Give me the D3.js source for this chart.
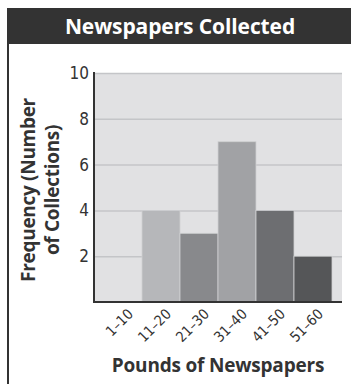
<!DOCTYPE html>
<html>
<head>
<meta charset="utf-8">
<script src="https://cdn.jsdelivr.net/npm/d3@7"></script>
<style>
  body { margin: 0; background: #fff; }
  svg { display: block; font-family: "Open Sans", "DejaVu Sans", sans-serif; }
</style>
</head>
<body>
<svg id="container" width="351" height="384"></svg>
<script>
const title = "Newspapers Collected";
const categories = ["1–10", "11–20", "21–30", "31–40", "41–50", "51–60"];
const frequencies = [0, 4, 3, 7, 4, 2];
const barColors = ["#e1e1e3", "#b6b7ba", "#88898c", "#a1a2a5", "#6d6e71", "#555658"];
const yTicks = [2, 4, 6, 8, 10];
const xTitle = "Pounds of Newspapers";
const yTitle = ["Frequency (Number", "of Collections)"];

const svg = d3.select('#container');

// frame + title bar
svg.append('rect').attr('x', 7).attr('y', 8).attr('width', 344).attr('height', 36).attr('fill', '#333333');
svg.append('line').attr('x1', 8).attr('x2', 8).attr('y1', 44).attr('y2', 384)
    .attr('stroke', '#333').attr('stroke-width', 2);
svg.append('text').attr('x', 180).attr('y', 34).attr('text-anchor', 'middle')
    .attr('fill', '#fff').attr('font-weight', 700).attr('font-size', 21)
    .attr('letter-spacing', -0.1)
    .text(title);

const plot = { left: 94, right: 342, top: 73, bottom: 302 };

const xScale = d3.scaleBand().domain(categories).range([104, 332]).padding(0);
const yScale = d3.scaleLinear().domain([0, 10]).range([plot.bottom, plot.top]);

svg.append('rect').attr('x', plot.left).attr('y', plot.top)
    .attr('width', plot.right - plot.left).attr('height', plot.bottom - plot.top)
    .attr('fill', '#e1e1e3');

// gridlines
svg.append('g')
    .attr('transform', 'translate(' + plot.left + ',0)')
    .call(d3.axisLeft(yScale).tickValues(yTicks).tickSize(-(plot.right - plot.left)).tickFormat(''))
    .call(g => g.select('.domain').remove())
    .call(g => g.selectAll('line').attr('stroke', '#c4c5c8').attr('stroke-width', 1.5));

// bars
svg.selectAll('.bar')
    .data(categories.map((c, i) => ({ c, v: frequencies[i], color: barColors[i] })).filter(d => d.v > 0))
    .join('rect')
    .attr('class', 'bar')
    .attr('x', d => xScale(d.c))
    .attr('y', d => yScale(d.v))
    .attr('width', xScale.bandwidth())
    .attr('height', d => yScale(0) - yScale(d.v))
    .attr('fill', d => d.color)
    .attr('stroke', '#cfd0d2')
    .attr('stroke-width', 0.8);

// y axis labels
svg.append('g')
    .attr('transform', 'translate(' + plot.left + ',0)')
    .call(d3.axisLeft(yScale).tickValues(yTicks).tickSize(0).tickPadding(5))
    .call(g => g.select('.domain').remove())
    .call(g => g.selectAll('text').attr('font-size', 17).attr('fill', '#333')
        .attr('font-family', '"DejaVu Sans Condensed", "Open Sans", sans-serif'));

// axis lines
svg.append('line').attr('x1', plot.left).attr('x2', plot.left).attr('y1', plot.top - 1).attr('y2', plot.bottom + 1)
    .attr('stroke', '#333').attr('stroke-width', 2);
svg.append('line').attr('x1', plot.left - 1).attr('x2', plot.right).attr('y1', plot.bottom).attr('y2', plot.bottom)
    .attr('stroke', '#333').attr('stroke-width', 2);

// x tick labels
svg.append('g')
    .attr('transform', 'translate(0,' + plot.bottom + ')')
    .call(d3.axisBottom(xScale).tickSize(0).tickPadding(0))
    .call(g => g.select('.domain').remove())
    .call(g => g.selectAll('text')
        .attr('font-size', 14.5).attr('fill', '#333')
        .attr('font-family', '"DejaVu Sans Condensed", "Open Sans", sans-serif')
        .attr('text-anchor', 'end').attr('dy', null).attr('y', 0)
        .attr('transform', 'translate(11,13) rotate(-45)'));

// axis titles
svg.append('text').attr('x', 218).attr('y', 372).attr('text-anchor', 'middle')
    .attr('font-weight', 700).attr('font-size', 19).attr('fill', '#333')
    .attr('letter-spacing', -0.2)
    .text(xTitle);

const yt = svg.append('text').attr('transform', 'translate(35,190) rotate(-90)')
    .attr('text-anchor', 'middle').attr('font-weight', 700).attr('font-size', 19).attr('fill', '#333')
    .attr('letter-spacing', -0.3);
yTitle.forEach((t, i) => yt.append('tspan').attr('x', 0).attr('y', i * 24).text(t));
</script>
</body>
</html>
